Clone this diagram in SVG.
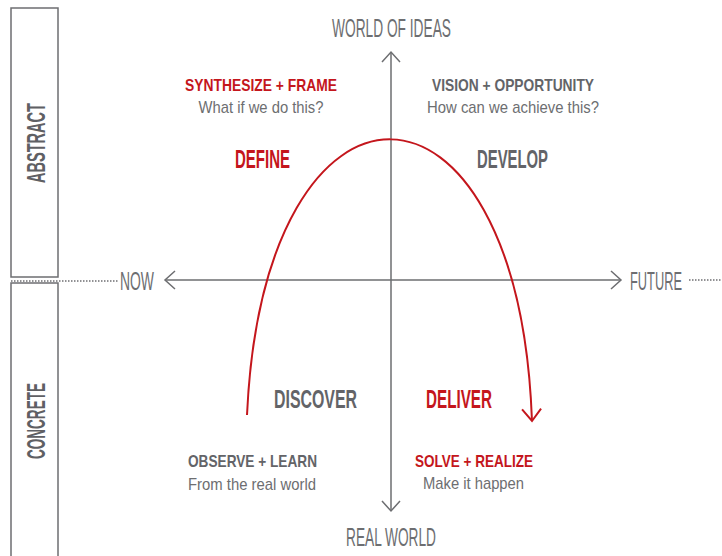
<svg xmlns="http://www.w3.org/2000/svg" width="722" height="556" viewBox="0 0 722 556">
<style>
.bar{fill:none;stroke:#6d6e71;stroke-width:1.5}
.axis{fill:none;stroke:#6d6e71;stroke-width:1.5}
.dot{fill:none;stroke:#6d6e71;stroke-width:1.5;stroke-dasharray:1.5 1.5}
.curve{fill:none;stroke:#c4161c;stroke-width:2}
text{font-family:"Liberation Sans",Arial,sans-serif}
.pole{font-size:25px;fill:#6d6e71;text-anchor:middle}
.side{font-size:26px;font-weight:bold;fill:#5f6064;text-anchor:middle}
.phase{font-size:26px;font-weight:bold;text-anchor:middle}
.head{font-size:17px;font-weight:bold;text-anchor:middle}
.sub{font-size:17px;fill:#6d6e71;text-anchor:middle}
.red{fill:#c4161c}
.gray{fill:#636468}
</style>
<defs>
<marker id="arrGray" markerUnits="userSpaceOnUse" viewBox="-12 -11 14 22" markerWidth="14" markerHeight="22" refX="0" refY="0" orient="auto">
<path d="M-10,-9 L0,0 L-10,9" fill="none" stroke="#6d6e71" stroke-width="1.5"/>
</marker>
<marker id="arrRed" markerUnits="userSpaceOnUse" viewBox="-14 -12 16 24" markerWidth="16" markerHeight="24" refX="0" refY="0" orient="auto">
<path d="M-12,-9.5 L0,0 L-12,9.5" fill="none" stroke="#c4161c" stroke-width="2"/>
</marker>
</defs>

<g id="abstract-bar">
<rect class="bar" x="11" y="8" width="47" height="269"/>
<text class="side" transform="translate(45,143) rotate(-90)" textLength="80" lengthAdjust="spacingAndGlyphs">ABSTRACT</text>
</g>
<g id="concrete-bar">
<rect class="bar" x="11" y="283" width="47" height="290"/>
<text class="side" transform="translate(45,421) rotate(-90)" textLength="76" lengthAdjust="spacingAndGlyphs">CONCRETE</text>
</g>

<g id="connectors">
<line class="dot" x1="11" y1="281" x2="118" y2="281"/>
<line class="dot" x1="689" y1="280" x2="722" y2="280"/>
<line class="axis" x1="391" y1="280" x2="165" y2="280" marker-end="url(#arrGray)"/>
<line class="axis" x1="391" y1="280" x2="621" y2="280" marker-end="url(#arrGray)"/>
<line class="axis" x1="391" y1="280" x2="391" y2="52" marker-end="url(#arrGray)"/>
<line class="axis" x1="391" y1="280" x2="391" y2="511" marker-end="url(#arrGray)"/>
<path class="curve" d="M247,415 C264,46.5 518,46.5 532,421" marker-end="url(#arrRed)"/>
</g>

<g id="world-of-ideas"><text class="pole" x="391.5" y="36.5" textLength="119" lengthAdjust="spacingAndGlyphs">WORLD OF IDEAS</text></g>
<g id="real-world"><text class="pole" x="391" y="546" textLength="90" lengthAdjust="spacingAndGlyphs">REAL WORLD</text></g>
<g id="now"><text class="pole" x="137" y="289.5" textLength="34" lengthAdjust="spacingAndGlyphs">NOW</text></g>
<g id="future"><text class="pole" x="656" y="289.5" textLength="52" lengthAdjust="spacingAndGlyphs">FUTURE</text></g>

<g id="define">
<text class="head red" x="261" y="91" textLength="152" lengthAdjust="spacingAndGlyphs">SYNTHESIZE + FRAME</text>
<text class="sub" x="261" y="113" textLength="125" lengthAdjust="spacingAndGlyphs">What if we do this?</text>
<text class="phase red" x="262.5" y="168" textLength="55" lengthAdjust="spacingAndGlyphs">DEFINE</text>
</g>
<g id="develop">
<text class="head gray" x="513" y="91" textLength="162" lengthAdjust="spacingAndGlyphs">VISION + OPPORTUNITY</text>
<text class="sub" x="513" y="113" textLength="172" lengthAdjust="spacingAndGlyphs">How can we achieve this?</text>
<text class="phase gray" x="512.5" y="168" textLength="71" lengthAdjust="spacingAndGlyphs">DEVELOP</text>
</g>
<g id="discover">
<text class="phase gray" x="315.5" y="408" textLength="83" lengthAdjust="spacingAndGlyphs">DISCOVER</text>
<text class="head gray" x="252.5" y="467" textLength="129" lengthAdjust="spacingAndGlyphs">OBSERVE + LEARN</text>
<text class="sub" x="252" y="490" textLength="128" lengthAdjust="spacingAndGlyphs">From the real world</text>
</g>
<g id="deliver">
<text class="phase red" x="459" y="408" textLength="66" lengthAdjust="spacingAndGlyphs">DELIVER</text>
<text class="head red" x="474" y="467" textLength="118" lengthAdjust="spacingAndGlyphs">SOLVE + REALIZE</text>
<text class="sub" x="473.5" y="489" textLength="101" lengthAdjust="spacingAndGlyphs">Make it happen</text>
</g>
</svg>
